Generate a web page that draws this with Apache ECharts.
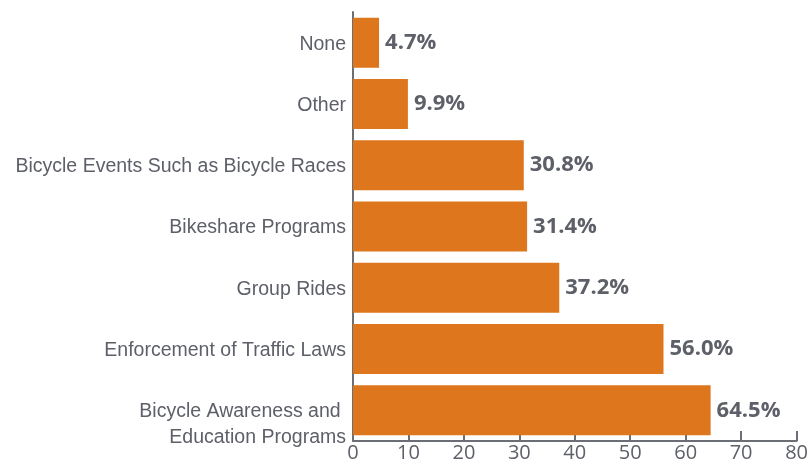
<!DOCTYPE html>
<html>
<head>
<meta charset="utf-8">
<script src="https://cdn.jsdelivr.net/npm/echarts@6/dist/echarts.min.js"></script>
<style>
  html, body { margin: 0; padding: 0; background: #ffffff; }
  #chart { width: 811px; height: 467px; }
</style>
</head>
<body>
<div id="chart"></div>
<script>
// Categories listed from bottom to top of the axis
var categories = [
  'Bicycle Awareness and \nEducation Programs',
  'Enforcement of Traffic Laws',
  'Group Rides',
  'Bikeshare Programs',
  'Bicycle Events Such as Bicycle Races',
  'Other',
  'None'
];
var shares = [64.5, 56.0, 37.2, 31.4, 30.8, 9.9, 4.7];
var xTicks = [0, 10, 20, 30, 40, 50, 60, 70, 80];

var textGray = '#5d6068';
var axisGray = '#6b6e75';
var labelFont = '"Liberation Sans", Arial, sans-serif';
var numberFont = '"Open Sans", "Liberation Sans", Arial, sans-serif';

var chart = echarts.init(document.getElementById('chart'));
chart.setOption({
  animation: false,
  grid: { left: 353, right: 14, top: 12, bottom: 26, containLabel: false },
  xAxis: {
    type: 'value',
    min: xTicks[0],
    max: xTicks[xTicks.length - 1],
    interval: xTicks[1] - xTicks[0],
    axisLine: { show: true, lineStyle: { color: axisGray, width: 2 } },
    axisTick: { show: true, inside: true, length: 10, lineStyle: { color: axisGray, width: 2 } },
    splitLine: { show: false },
    axisLabel: { color: textGray, fontSize: 20, margin: 2, fontFamily: numberFont }
  },
  yAxis: {
    type: 'category',
    data: categories,
    axisLine: { show: true, lineStyle: { color: axisGray, width: 2 } },
    axisTick: { show: false },
    axisLabel: {
      color: textGray,
      fontSize: 19.5,
      margin: 7,
      fontFamily: labelFont,
      lineHeight: 26,
      align: 'right',
      padding: [3, 0, 0, 0],
      formatter: function (v) {
        return v.indexOf('\n') >= 0 ? '{low|' + v + '}' : v;
      },
      rich: {
        low: { color: textGray, fontSize: 19.5, fontFamily: labelFont, lineHeight: 26, padding: [25, 0, 0, 0], align: 'right' }
      }
    }
  },
  series: [{
    type: 'bar',
    data: shares,
    barWidth: 50,
    itemStyle: { color: '#dd761c' },
    label: {
      show: true,
      position: 'right',
      distance: 6,
      color: textGray,
      fontSize: 22,
      fontWeight: 'bold',
      fontFamily: numberFont,
      formatter: function (p) { return p.value.toFixed(1) + '%'; }
    }
  }]
});
</script>
</body>
</html>
